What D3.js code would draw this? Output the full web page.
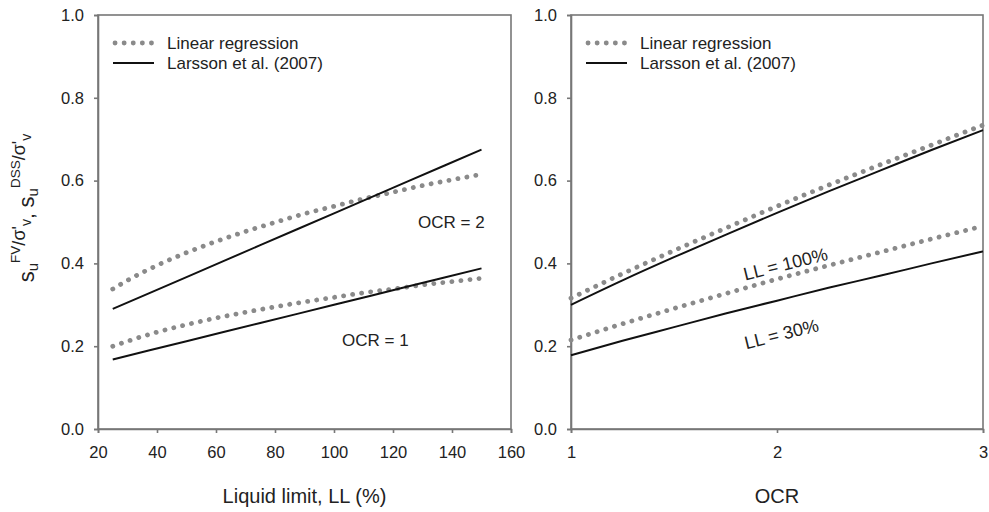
<!DOCTYPE html>
<html>
<head>
<meta charset="utf-8">
<script src="https://cdn.jsdelivr.net/npm/d3@7"></script>
<style>
body { margin: 0; background: #fff; }
svg text { font-family: "Liberation Sans", Arial, sans-serif; fill: #222; }
</style>
</head>
<body>
<div id="chart"></div>
<script>
// left panel: vs liquid limit
var llRegValues = [25, 30, 40, 50, 60, 70, 80, 90, 100, 110, 120, 130, 140, 150];
var regOcr2 = [0.338, 0.359, 0.395, 0.426, 0.453, 0.477, 0.499, 0.520, 0.538, 0.556, 0.572, 0.588, 0.602, 0.615];
var regOcr1 = [0.200, 0.212, 0.234, 0.252, 0.268, 0.282, 0.295, 0.307, 0.318, 0.329, 0.338, 0.348, 0.356, 0.364];
var llLarValues = [25, 50, 75, 100, 125, 150];
var larOcr2 = [0.290, 0.367, 0.444, 0.521, 0.598, 0.675];
var larOcr1 = [0.168, 0.212, 0.256, 0.300, 0.344, 0.388];

// right panel: vs OCR
var ocrValues = [1, 1.25, 1.5, 1.75, 2, 2.25, 2.5, 2.75, 3];
var regLL100 = [0.316, 0.375, 0.431, 0.485, 0.538, 0.589, 0.638, 0.686, 0.734];
var regLL30 = [0.215, 0.254, 0.291, 0.327, 0.362, 0.395, 0.427, 0.459, 0.490];
var larLL100 = [0.300, 0.359, 0.415, 0.469, 0.522, 0.574, 0.624, 0.674, 0.722];
var larLL30 = [0.178, 0.213, 0.246, 0.279, 0.310, 0.341, 0.370, 0.400, 0.429];

var yTicks = [0, 0.2, 0.4, 0.6, 0.8, 1.0];
var llTicks = [20, 40, 60, 80, 100, 120, 140, 160];
var ocrTicks = [1, 2, 3];
var legendLabels = ["Linear regression", "Larsson et al. (2007)"];

var width = 989, height = 512;
var axisColor = "#777";

var svg = d3.select("#chart").append("svg")
    .attr("width", width)
    .attr("height", height);

var y = d3.scaleLinear().domain([0, 1]).range([429, 15]);
var xLL = d3.scaleLinear().domain([20, 160]).range([98, 511]);
var xOCR = d3.scaleLinear().domain([1, 3]).range([571, 983]);

function styleAxis(g) {
    g.selectAll("path, line").attr("stroke", axisColor).attr("stroke-width", 1.6);
    g.selectAll("text").attr("fill", "#222").style("font-size", "16.5px");
}

function drawPanel(x, xTicks, xLabel) {
    // frame
    svg.append("rect")
        .attr("x", x.range()[0]).attr("y", y.range()[1])
        .attr("width", x.range()[1] - x.range()[0])
        .attr("height", y.range()[0] - y.range()[1])
        .attr("fill", "none").attr("stroke", axisColor).attr("stroke-width", 1.6);

    svg.append("g")
        .attr("transform", "translate(" + x.range()[0] + ",0)")
        .call(d3.axisLeft(y).tickValues(yTicks).tickFormat(d3.format(".1f")).tickSize(4).tickPadding(10))
        .call(styleAxis);

    svg.append("g")
        .attr("transform", "translate(0," + y.range()[0] + ")")
        .call(d3.axisBottom(x).tickValues(xTicks).tickFormat(d3.format("d")).tickSize(4).tickPadding(13))
        .call(styleAxis);

    svg.append("text")
        .attr("x", (x.range()[0] + x.range()[1]) / 2)
        .attr("y", 503)
        .attr("text-anchor", "middle")
        .style("font-size", "20px")
        .text(xLabel);

    // legend
    var lx = x.range()[0];
    svg.append("line")
        .attr("x1", lx + 17).attr("x2", lx + 55).attr("y1", 43).attr("y2", 43)
        .attr("stroke", "#8a8a8a").attr("stroke-width", 4.8)
        .attr("stroke-linecap", "round").attr("stroke-dasharray", "0.1 9");
    svg.append("line")
        .attr("x1", lx + 15).attr("x2", lx + 56).attr("y1", 63).attr("y2", 63)
        .attr("stroke", "#111").attr("stroke-width", 2);
    legendLabels.forEach(function (t, i) {
        svg.append("text")
            .attr("x", lx + 69).attr("y", 49 + i * 20)
            .style("font-size", "17px")
            .text(t);
    });
}

function drawSeries(x, xs, ys, dotted) {
    var line = d3.line()
        .x(function (d, i) { return x(xs[i]); })
        .y(function (d) { return y(d); })
        .curve(d3.curveMonotoneX);
    var p = svg.append("path")
        .attr("d", line(ys))
        .attr("fill", "none");
    if (dotted) {
        p.attr("stroke", "#8a8a8a").attr("stroke-width", 4.8)
         .attr("stroke-linecap", "round").attr("stroke-dasharray", "0.1 9");
    } else {
        p.attr("stroke", "#111").attr("stroke-width", 2);
    }
}

drawPanel(xLL, llTicks, "Liquid limit, LL (%)");
drawPanel(xOCR, ocrTicks, "OCR");

drawSeries(xLL, llRegValues, regOcr2, true);
drawSeries(xLL, llRegValues, regOcr1, true);
drawSeries(xLL, llLarValues, larOcr2, false);
drawSeries(xLL, llLarValues, larOcr1, false);

drawSeries(xOCR, ocrValues, regLL100, true);
drawSeries(xOCR, ocrValues, regLL30, true);
drawSeries(xOCR, ocrValues, larLL100, false);
drawSeries(xOCR, ocrValues, larLL30, false);

// annotations
svg.append("text").attr("x", 418).attr("y", 228).style("font-size", "17px").text("OCR = 2");
svg.append("text").attr("x", 342).attr("y", 346).style("font-size", "17px").text("OCR = 1");
svg.append("text")
    .attr("transform", "translate(787,270) rotate(-14)")
    .attr("text-anchor", "middle").style("font-size", "18px").text("LL = 100%");
svg.append("text")
    .attr("transform", "translate(783,340) rotate(-14)")
    .attr("text-anchor", "middle").style("font-size", "18px").text("LL = 30%");

// y axis title
var yt = svg.append("text")
    .attr("transform", "translate(34,208) rotate(-90)")
    .attr("text-anchor", "middle")
    .style("font-size", "21px");
function part(txt, size, dy) {
    yt.append("tspan").attr("dy", dy).style("font-size", size + "px").text(txt);
}
part("s", 22, 0);
part("u", 15, 4);
part("FV", 13.5, -18);
part("/σ'", 18, 5);
part("v", 14, 6);
part(", ", 21, 3);
part("s", 22, 0);
part("u", 15, 4);
part("DSS", 13.5, -18);
part("/σ'", 18, 5);
part("v", 14, 6);
</script>
</body>
</html>
